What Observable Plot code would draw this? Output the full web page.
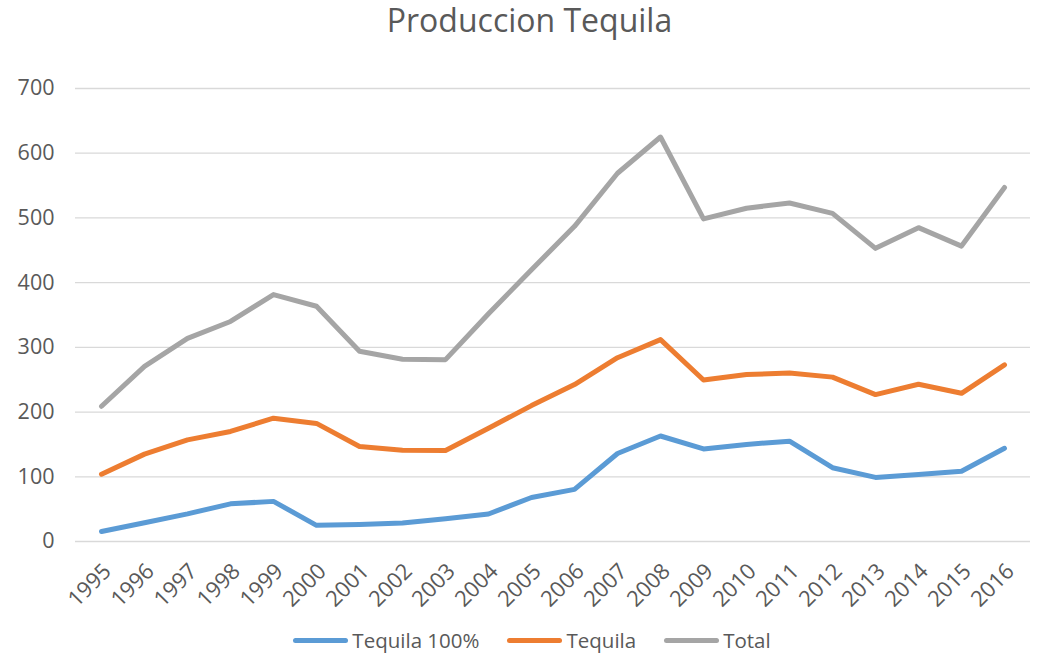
<!DOCTYPE html>
<html><head><meta charset="utf-8">
<script src="https://cdn.jsdelivr.net/npm/d3@7"></script>
<script src="https://cdn.jsdelivr.net/npm/@observablehq/plot@0.6"></script>
<style>
body{margin:0;background:#fff;font-family:"Open Sans",sans-serif;width:1038px;height:653px;overflow:hidden;position:relative;}
#title{height:50px;text-align:center;font-size:32px;color:#595959;line-height:40px;padding-left:21px;}
#chart svg{display:block;}
#legend{position:absolute;left:0;top:626px;width:1038px;padding-left:26px;box-sizing:border-box;display:flex;justify-content:center;align-items:center;font-size:20.5px;color:#595959;}
.item{display:flex;align-items:center;margin:0 14px;}
.sw{width:55px;height:5px;border-radius:3px;margin-right:4px;}
</style></head><body>
<div id="title">Produccion Tequila</div>
<div id="chart"></div>
<div id="legend"></div>
<script>
const years = ["1995","1996","1997","1998","1999","2000","2001","2002","2003","2004","2005","2006","2007","2008","2009","2010","2011","2012","2013","2014","2015","2016"];
const seriesNames = ["Tequila 100%","Tequila","Total"];
const seriesColors = ["#5B9BD5","#ED7D31","#A5A5A5"];
const tequila100 = [15.4,29,42.7,58.2,62,25,26.3,28.5,35,42.5,68,80.5,136,163,143,150,155,114,99,103.5,108.5,144];
const tequila = [104,135,157,170,190.5,182.5,146.7,141,140.5,175,210,242.5,284,312,249.5,258,260.5,254,227,243,229,273];
const total = [209,270.5,314,340,381.5,363.5,294,281.5,281,352,420,487,569,625,498.5,515,523,507,453,485,456.5,547];
const yTicks = [0,100,200,300,400,500,600,700];

const valuesBySeries = [tequila100, tequila, total];
const data = [];
seriesNames.forEach((s, i) => years.forEach((y, j) => data.push({series: s, year: y, value: valuesBySeries[i][j]})));

const chart = Plot.plot({
  width: 1038,
  height: 565,
  marginTop: 38,
  marginBottom: 74,
  marginLeft: 75,
  marginRight: 8,
  style: {fontFamily: "'Open Sans', sans-serif", fontSize: "21.5px", color: "#595959", background: "#fff"},
  x: {type: "point", domain: years, padding: 0.5, label: null},
  y: {domain: [0, 700], label: null},
  color: {domain: seriesNames, range: seriesColors},
  marks: [
    Plot.gridY(yTicks, {stroke: "#d9d9d9", strokeOpacity: 1, strokeWidth: 1.3}),
    Plot.axisY(yTicks, {tickSize: 0, tickPadding: 21, fontSize: 21.5, fill: "#595959", label: null}),
    Plot.axisX({tickSize: 0, tickRotate: -45, tickPadding: 26, dx: 6, fontSize: 22, fill: "#595959", label: null}),
    Plot.line(data, {x: "year", y: "value", z: "series", stroke: "series", strokeWidth: 5, strokeLinecap: "round", strokeLinejoin: "round"})
  ]
});
document.getElementById("chart").appendChild(chart);

const legend = document.getElementById("legend");
seriesNames.forEach((s, i) => {
  const it = document.createElement("div"); it.className = "item";
  const sw = document.createElement("div"); sw.className = "sw"; sw.style.background = seriesColors[i];
  const tx = document.createElement("span"); tx.textContent = s;
  it.appendChild(sw); it.appendChild(tx); legend.appendChild(it);
});
</script>
</body></html>
